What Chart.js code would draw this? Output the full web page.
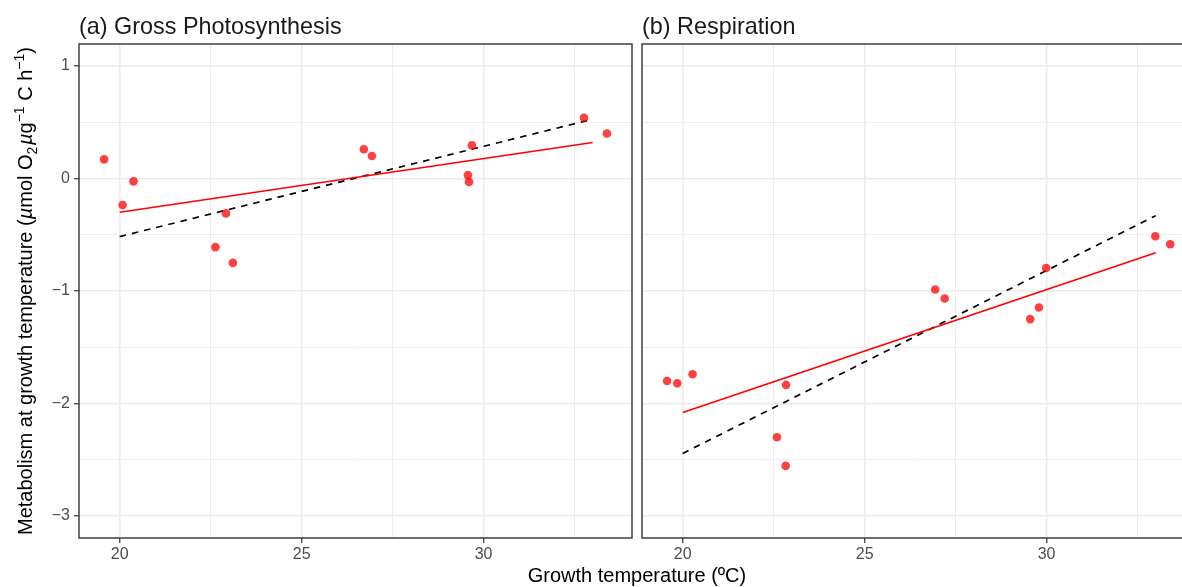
<!DOCTYPE html>
<html>
<head>
<meta charset="utf-8">
<script src="https://cdn.jsdelivr.net/npm/chart.js@4.4.1/dist/chart.umd.min.js"></script>
<style>
  body { margin: 0; width: 1182px; height: 587px; overflow: hidden; position: relative; background: #fff;
         font-family: "Liberation Sans", Arial, Helvetica, sans-serif; }
  .wrap { position: absolute; top: 0; }
  .ptitle { position: absolute; top: 15px; font-size: 23.4px; line-height: 23px; color: #1a1a1a; white-space: nowrap; }
  #xtitle { position: absolute; left: 337px; width: 600px; top: 565px; text-align: center;
            font-size: 20px; line-height: 20px; color: #000; white-space: nowrap; }
  #ytitle { position: absolute; left: -235px; width: 520px; top: 281px; text-align: center;
            font-size: 20px; line-height: 20px; color: #000; white-space: nowrap; transform: rotate(-90deg); }
  #ytitle sub, #ytitle sup { font-size: 14px; line-height: 0; }
</style>
</head>
<body>
<div class="wrap" style="left:0"><canvas id="gp" width="640" height="587"></canvas></div>
<div class="wrap" style="left:636px"><canvas id="resp" width="570" height="587"></canvas></div>
<div class="ptitle" style="left:79px">(a) Gross Photosynthesis</div>
<div class="ptitle" style="left:642px">(b) Respiration</div>
<div id="xtitle">Growth temperature (ºC)</div>
<div id="ytitle">Metabolism at growth temperature (<i>µ</i>mol O<sub>2</sub>&#8202;<i>µ</i>g<sup>−1</sup> C h<sup>−1</sup>)</div>
<script>
// panel (a) gross photosynthesis
const gpTemp  = [19.57, 20.08, 20.38, 22.63, 22.92, 23.11, 26.71, 26.93, 29.57, 29.60, 29.68, 32.76, 33.39];
const gpValue = [0.17, -0.235, -0.025, -0.61, -0.31, -0.75, 0.26, 0.20, 0.03, -0.03, 0.295, 0.54, 0.40];
// panel (b) respiration
const respTemp  = [19.57, 19.85, 20.27, 22.59, 22.83, 22.84, 26.94, 27.20, 29.55, 29.79, 29.99, 32.99, 33.40];
const respValue = [-1.80, -1.82, -1.74, -2.30, -2.555, -1.835, -0.987, -1.067, -1.25, -1.147, -0.795, -0.513, -0.584];
// fitted lines (ends)
const fitTemp = [20, 33];
const gpFitSolid  = [-0.30, 0.32];
const gpFitDashed = [-0.516, 0.527];
const respFitSolid  = [-2.08, -0.66];
const respFitDashed = [-2.444, -0.33];
// axes
const xTicks = [20, 22.5, 25, 27.5, 30, 32.5];
const yTicks = [-3, -2.5, -2, -1.5, -1, -0.5, 0, 0.5, 1];
const xRange = [18.88, 34.08];
const yRange = [-3.196, 1.196];

const FONT = '"Liberation Sans", Arial, Helvetica, sans-serif';

const borderBox = {
  id: 'borderBox',
  afterDatasetsDraw(chart) {
    const a = chart.chartArea, c = chart.ctx;
    c.save();
    c.strokeStyle = '#333333';
    c.lineWidth = 1.4;
    c.strokeRect(a.left, a.top, a.right - a.left, a.bottom - a.top);
    c.restore();
  }
};

function pts(xs, ys) { return xs.map((x, i) => ({ x: x, y: ys[i] })); }

function makePanel(id, temps, values, solid, dashed, showY, padding) {
  new Chart(document.getElementById(id), {
    type: 'scatter',
    data: {
      datasets: [
        { data: pts(temps, values), backgroundColor: 'rgba(255,0,0,0.75)', borderWidth: 0, pointRadius: 4.3 },
        { data: pts(fitTemp, solid), showLine: true, borderColor: '#ff0000', borderWidth: 1.7, pointRadius: 0 },
        { data: pts(fitTemp, dashed), showLine: true, borderColor: '#000000', borderWidth: 1.7,
          borderDash: [6.5, 6], pointRadius: 0 }
      ]
    },
    options: {
      responsive: false,
      animation: false,
      layout: { padding: padding },
      plugins: { legend: { display: false }, tooltip: { enabled: false } },
      scales: {
        x: {
          type: 'linear', min: xRange[0], max: xRange[1],
          afterBuildTicks: s => { s.ticks = xTicks.map(v => ({ value: v })); },
          afterFit: s => { s.height = 30; },
          border: { display: false },
          grid: {
            color: '#ebebeb',
            lineWidth: c => (c.tick && c.tick.value % 5 === 0) ? 1.5 : 0.9,
            tickLength: 5,
            tickColor: c => (c.tick && c.tick.value % 5 === 0) ? '#333333' : 'rgba(0,0,0,0)',
            tickWidth: 1.2
          },
          ticks: {
            autoSkip: false, maxRotation: 0, padding: 2,
            color: '#4d4d4d', font: { family: FONT, size: 16 },
            callback: v => v % 5 === 0 ? String(v) : ''
          }
        },
        y: {
          type: 'linear', min: yRange[0], max: yRange[1], display: true,
          afterBuildTicks: s => { s.ticks = yTicks.map(v => ({ value: v })); },
          afterFit: s => { s.width = showY ? 79 : 0; },
          border: { display: false },
          grid: {
            color: '#ebebeb',
            lineWidth: c => (c.tick && Number.isInteger(c.tick.value)) ? 1.5 : 0.9,
            drawTicks: showY,
            tickLength: 5,
            tickColor: c => (c.tick && Number.isInteger(c.tick.value)) ? '#333333' : 'rgba(0,0,0,0)',
            tickWidth: 1.2
          },
          ticks: {
            display: showY, autoSkip: false, padding: 4,
            color: '#4d4d4d', font: { family: FONT, size: 16 },
            callback: v => Number.isInteger(v) ? String(v).replace('-', '\u2212') : ''
          }
        }
      }
    },
    plugins: [borderBox]
  });
}

makePanel('gp', gpTemp, gpValue, gpFitSolid, gpFitDashed, true, { left: 0, top: 44, right: 8, bottom: 19 });
makePanel('resp', respTemp, respValue, respFitSolid, respFitDashed, false, { left: 6, top: 44, right: 11, bottom: 19 });
</script>
</body>
</html>
